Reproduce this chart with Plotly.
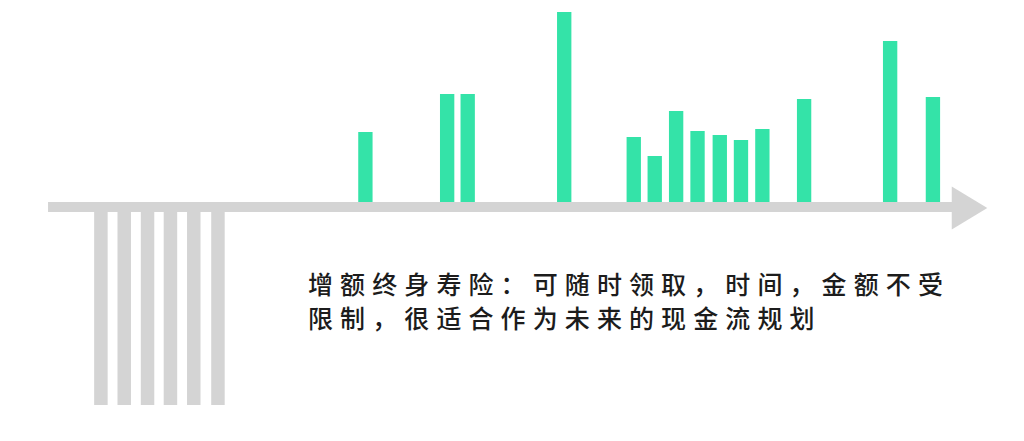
import plotly.graph_objects as go

# Green (cash withdrawals) bars: period position and amount
green_x = [12.36, 16.18, 17.14, 21.65, 24.9, 25.88, 26.88, 27.88, 28.92, 29.91, 30.91, 32.86, 36.88, 38.88]
green_y = [75, 113, 113, 195, 70, 51, 96, 76, 72, 67, 78, 108, 166, 110]

# Grey (premium payments) bars: period position and amount
grey_x = [0, 1.09, 2.18, 3.25, 4.34, 5.47]
grey_y = [-198, -198, -198, -198, -198, -198]

caption_lines = ["增额终身寿险：可随时领取，时间，金额不受", "限制，很适合作为未来的现金流规划"]

GREEN = "#34e3a8"
GREY = "#d4d4d4"

# page body has an 8px default margin; figure sized to fit inside the window
W, H = 1008, 425
OFF = 8

fig = go.Figure()
fig.add_trace(go.Bar(x=green_x, y=green_y, width=0.67, marker=dict(color=GREEN, line_width=0),
                     showlegend=False, hoverinfo="skip"))
fig.add_trace(go.Bar(x=grey_x, y=grey_y, width=0.63, marker=dict(color=GREY, line_width=0),
                     showlegend=False, hoverinfo="skip"))

# Timeline axis with arrow
fig.add_shape(type="line", xref="x", yref="y", x0=-2.47, x1=39.9, y0=0, y1=0,
              line=dict(color=GREY, width=10), layer="above")
fig.add_shape(type="path", xref="x", yref="y",
              path="M 39.76,20.5 L 41.42,-1 L 39.76,-22.5 Z",
              fillcolor=GREY, line=dict(width=0), layer="above")

for line_text, yc in zip(caption_lines, [283, 317]):
    fig.add_annotation(
        xref="paper", yref="paper", x=(306 - OFF) / W, y=1 - (yc - OFF) / H,
        xanchor="left", yanchor="middle",
        text=f'<span style="letter-spacing:7.1px">{line_text}</span>',
        showarrow=False, align="left",
        font=dict(family="Noto Sans CJK SC", size=25, color="#1c1c1c", weight=500),
    )

px_per_unit = 21.4
x_min = -(100.9 - OFF) / px_per_unit
y_max = 207 - OFF

fig.update_layout(
    width=W, height=H,
    margin=dict(l=0, r=0, t=0, b=0),
    paper_bgcolor="white", plot_bgcolor="white",
    barmode="overlay",
    xaxis=dict(range=[x_min, x_min + W / px_per_unit], visible=False, fixedrange=True),
    yaxis=dict(range=[y_max - H, y_max], visible=False, fixedrange=True),
)

fig.write_html("out.html")
